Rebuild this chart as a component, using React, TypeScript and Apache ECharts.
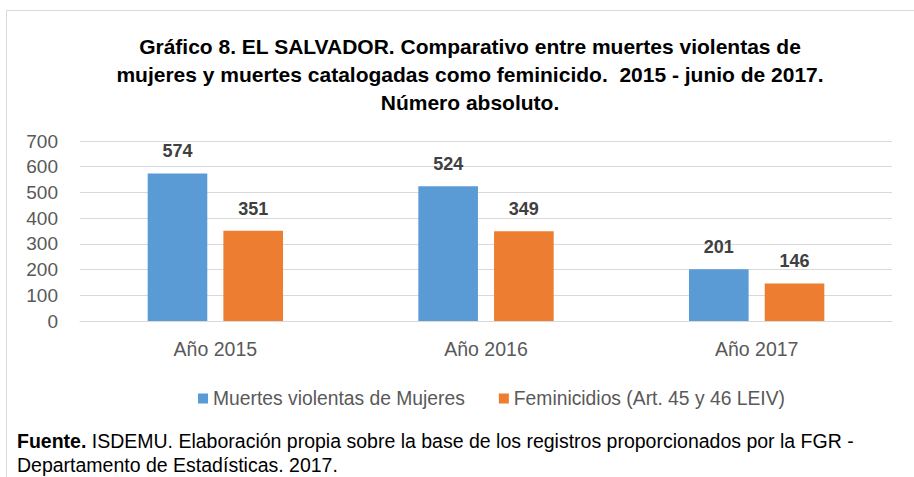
import React, { useEffect, useRef } from "react";
import * as echarts from "echarts";

const categories = ["Año 2015", "Año 2016", "Año 2017"];
const muertesViolentas = [574, 524, 201];
const feminicidios = [351, 349, 146];
const seriesNames = ["Muertes violentas de Mujeres", "Feminicidios (Art. 45 y 46 LEIV)"];
const titleLines = [
  "Gráfico 8. EL SALVADOR. Comparativo entre muertes violentas de",
  "mujeres y muertes catalogadas como feminicido.  2015 - junio de 2017.",
  "Número absoluto.",
];
const footerBold = "Fuente.";
const footerLines = [
  "ISDEMU. Elaboración propia sobre la base de los registros proporcionados por la FGR -",
  "Departamento de Estadísticas. 2017.",
];

const FONT = "'Liberation Sans', sans-serif";

export default function App() {
  const ref = useRef<HTMLDivElement>(null);
  useEffect(() => {
    if (!ref.current) return;
    const chart = echarts.init(ref.current, undefined, { renderer: "svg" });
    const labelStyle = {
      show: true,
      position: "top" as const,
      distance: 13,
      fontFamily: FONT,
      fontWeight: "bold" as const,
      fontSize: 18,
      color: "#404040",
    };
    chart.setOption({
      animation: false,
      backgroundColor: "#ffffff",
      textStyle: { fontFamily: FONT },
      grid: { left: 80, right: 22, top: 141, bottom: 156 },
      legend: {
        top: 384,
        left: 193,
        itemWidth: 10,
        itemHeight: 10,
        itemGap: 34,
        icon: "rect",
        textStyle: { fontFamily: FONT, fontSize: 19.3, color: "#595959" },
        data: seriesNames,
      },
      xAxis: {
        type: "category",
        data: categories,
        axisLine: { lineStyle: { color: "#d9d9d9" } },
        axisTick: { show: false },
        axisLabel: { fontSize: 19.5, color: "#595959", margin: 18, fontFamily: FONT },
      },
      yAxis: {
        type: "value",
        min: 0,
        max: 700,
        interval: 100,
        axisLine: { show: false },
        axisTick: { show: false },
        splitLine: { lineStyle: { color: "#d9d9d9", width: 1 } },
        axisLabel: { fontSize: 19, color: "#595959", margin: 22, fontFamily: FONT },
      },
      series: [
        {
          name: seriesNames[0],
          type: "bar",
          data: muertesViolentas,
          itemStyle: { color: "#5B9BD5" },
          barGap: "27%",
          barCategoryGap: "50%",
          label: labelStyle,
        },
        {
          name: seriesNames[1],
          type: "bar",
          data: feminicidios,
          itemStyle: { color: "#ED7D31" },
          label: labelStyle,
        },
      ],
      graphic: [
        {
          type: "rect",
          shape: { x: 6.5, y: 10.5, width: 1000, height: 1000 },
          style: { fill: "none", stroke: "#d9d9d9", lineWidth: 1 },
          silent: true,
        },
        {
          type: "text",
          x: 470,
          y: 32,
          style: {
            text: titleLines.join("\n"),
            align: "center",
            verticalAlign: "top",
            fontFamily: FONT,
            fontWeight: "bold",
            fontSize: 21,
            lineHeight: 28,
            fill: "#000000",
          },
        },
        {
          type: "text",
          left: 17,
          top: 429,
          style: {
            text: "{b|" + footerBold + "} " + footerLines[0] + "\n" + footerLines[1],
            fontFamily: FONT,
            fontSize: 19.5,
            lineHeight: 24,
            fill: "#000000",
            rich: {
              b: { fontFamily: FONT, fontSize: 19.5, fontWeight: "bold", fill: "#000000" },
            },
          },
        },
      ],
    });
    return () => chart.dispose();
  }, []);
  return (
    <div
      ref={ref}
      style={{ position: "fixed", left: 0, top: 0, width: 914, height: 477 }}
    />
  );
}
